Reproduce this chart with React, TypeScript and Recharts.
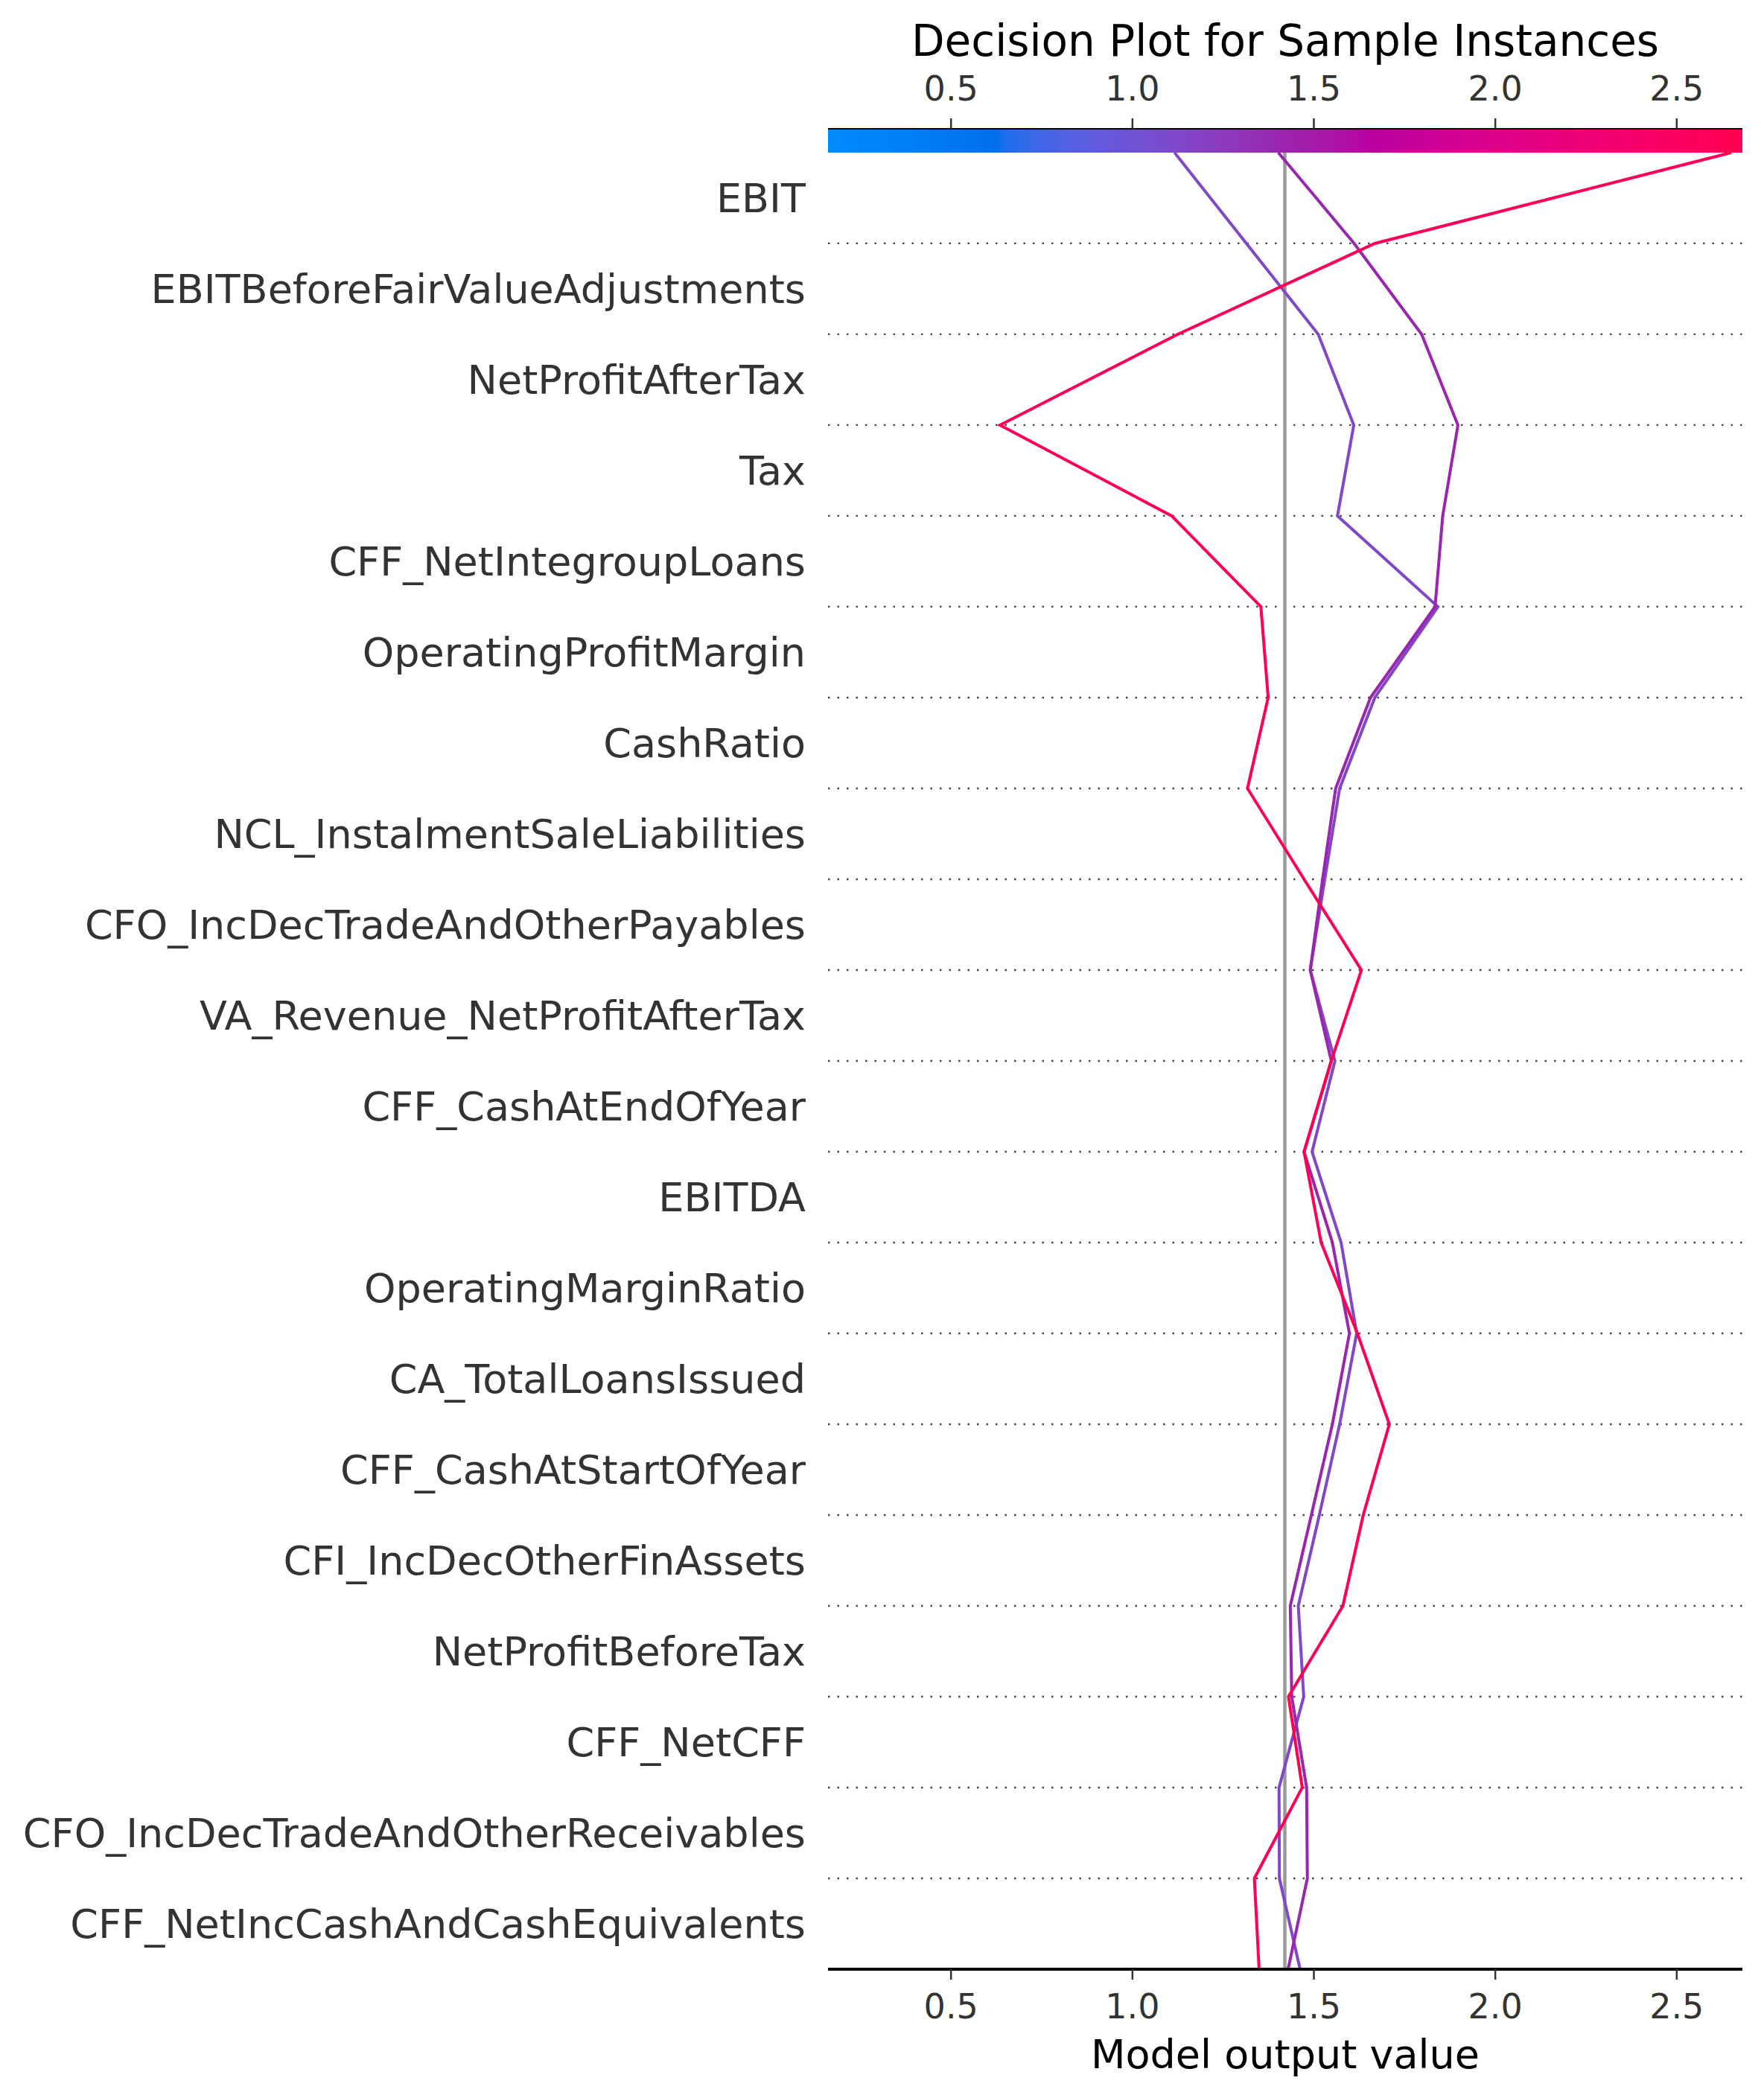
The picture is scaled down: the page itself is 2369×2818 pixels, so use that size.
import React from 'react';
import {
  ComposedChart,
  Line,
  XAxis,
  YAxis,
  ReferenceLine,
  ReferenceArea,
  Label,
} from 'recharts';

// features, top to bottom
const features = [
  'EBIT',
  'EBITBeforeFairValueAdjustments',
  'NetProfitAfterTax',
  'Tax',
  'CFF_NetIntegroupLoans',
  'OperatingProfitMargin',
  'CashRatio',
  'NCL_InstalmentSaleLiabilities',
  'CFO_IncDecTradeAndOtherPayables',
  'VA_Revenue_NetProfitAfterTax',
  'CFF_CashAtEndOfYear',
  'EBITDA',
  'OperatingMarginRatio',
  'CA_TotalLoansIssued',
  'CFF_CashAtStartOfYear',
  'CFI_IncDecOtherFinAssets',
  'NetProfitBeforeTax',
  'CFF_NetCFF',
  'CFO_IncDecTradeAndOtherReceivables',
  'CFF_NetIncCashAndCashEquivalents',
];

// cumulative model output at each row boundary, top (final prediction) to bottom
const redPath = [
  2.65, 1.668, 1.125, 0.635, 1.108, 1.354, 1.374, 1.317, 1.473, 1.631, 1.548,
  1.473, 1.52, 1.62, 1.708, 1.636, 1.58, 1.43, 1.468, 1.336, 1.349,
];
const purplePath = [
  1.402, 1.611, 1.797, 1.897, 1.855, 1.834, 1.656, 1.56, 1.524, 1.49, 1.548,
  1.473, 1.551, 1.598, 1.551, 1.493, 1.435, 1.439, 1.48, 1.482, 1.429,
];
const bluePath = [
  1.116, 1.314, 1.512, 1.61, 1.565, 1.842, 1.668, 1.571, 1.53, 1.49, 1.558,
  1.495, 1.575, 1.618, 1.571, 1.515, 1.457, 1.472, 1.404, 1.405, 1.462,
];

const baseValue = 1.42;
const xTicks = [0.5, 1.0, 1.5, 2.0, 2.5];
const xMin = 0.161;
const xMax = 2.681;

const rows = features.length;
const cbarTop = rows + 0.262;

const data = redPath.map((v, i) => ({
  pos: rows - i,
  red: v,
  purple: purplePath[i],
  blue: bluePath[i],
}));

// shap red_blue colormap (lch interpolation)
function lch2rgb(l: number, c: number, h: number) {
  const a = c * Math.cos(h);
  const b = c * Math.sin(h);
  const fy = (l + 16) / 116;
  const fx = fy + a / 500;
  const fz = fy - b / 200;
  const inv = (t: number) => (t > 0.2068966 ? t * t * t : (t - 16 / 116) / 7.787);
  const X = 0.95047 * inv(fx);
  const Y = inv(fy);
  const Z = 1.08883 * inv(fz);
  const lin = [
    3.24048134 * X - 1.53715152 * Y - 0.49853633 * Z,
    -0.96925495 * X + 1.87599 * Y + 0.04155593 * Z,
    0.05564664 * X - 0.20404134 * Y + 1.05731107 * Z,
  ];
  const out = lin.map(v => {
    const g = v > 0.0031308 ? 1.055 * Math.pow(v, 1 / 2.4) - 0.055 : 12.92 * v;
    return Math.round(Math.min(1, Math.max(0, g)) * 255);
  });
  return `rgb(${out.join(',')})`;
}

const steps = 100;
const cmap = Array.from({ length: steps }, (_, i) => {
  const l = i < 50 ? 54 + (40 - 54) * (i / 49) : 40 + (54 - 40) * ((i - 50) / 49);
  const c = 70 + (90 - 70) * (i / 99);
  const h = 4.6588 + (0.35470565 + 2 * Math.PI - 4.6588) * (i / 99);
  return lch2rgb(l, c, h);
});

const colorFor = (v: number) => {
  const t = Math.min(1, Math.max(0, (v - xMin) / (xMax - xMin)));
  return cmap[Math.round(t * (steps - 1))];
};

const tickStyle = { fontSize: 46, fill: '#333333', fontFamily: 'DejaVu Sans' };

const App: React.FC = () => {
  return (
    <div
      style={{
        position: 'absolute',
        left: 0,
        top: 0,
        width: 2369,
        height: 2818,
        background: '#ffffff',
        fontFamily: 'DejaVu Sans',
      }}
    >
      <ComposedChart
        layout="vertical"
        width={2369}
        height={2818}
        data={data}
        margin={{ top: 0, right: 29, bottom: 0, left: 32 }}
      >
        <defs>
          <linearGradient id="cbar" x1="0" y1="0" x2="1" y2="0">
            {cmap.map((col, i) => (
              <stop key={i} offset={`${(i / (steps - 1)) * 100}%`} stopColor={col} />
            ))}
          </linearGradient>
        </defs>
        <XAxis
          xAxisId="top"
          orientation="top"
          type="number"
          domain={[xMin, xMax]}
          allowDataOverflow
          ticks={xTicks}
          tickFormatter={(v: number) => v.toFixed(1)}
          height={173}
          tick={tickStyle}
          tickSize={14}
          tickMargin={24}
          tickLine={{ stroke: '#333333', strokeWidth: 2.5 }}
          axisLine={{ stroke: '#000000', strokeWidth: 2 }}
        >
          <Label
            value="Decision Plot for Sample Instances"
            position="insideTop"
            offset={34}
            style={{ fontSize: 58, fill: '#000000', fontFamily: 'DejaVu Sans' }}
          />
        </XAxis>
        <XAxis
          xAxisId="bottom"
          orientation="bottom"
          type="number"
          domain={[xMin, xMax]}
          allowDataOverflow
          ticks={xTicks}
          tickFormatter={(v: number) => v.toFixed(1)}
          height={173}
          tick={tickStyle}
          tickSize={14}
          tickMargin={19}
          tickLine={{ stroke: '#333333', strokeWidth: 2.5 }}
          axisLine={{ stroke: '#000000', strokeWidth: 4 }}
        >
          <Label
            value="Model output value"
            position="insideBottom"
            offset={40}
            style={{ fontSize: 54, fill: '#000000', fontFamily: 'DejaVu Sans' }}
          />
        </XAxis>
        <YAxis
          type="number"
          dataKey="pos"
          reversed
          domain={[0, cbarTop]}
          allowDataOverflow
          ticks={features.map((_, i) => rows - i - 0.5)}
          tickFormatter={(v: number) => features[Math.round(rows - 0.5 - v)]}
          width={1080}
          axisLine={false}
          tickLine={false}
          tickSize={0}
          tickMargin={30}
          tick={{ fontSize: 54, fill: '#333333', fontFamily: 'DejaVu Sans' }}
        />
        <ReferenceArea
          xAxisId="bottom"
          x1={xMin}
          x2={xMax}
          y1={rows}
          y2={cbarTop}
          fill="url(#cbar)"
          fillOpacity={1}
          stroke="none"
        />
        {features.slice(1).map((_, i) => (
          <ReferenceLine
            key={i}
            xAxisId="bottom"
            y={i + 1}
            stroke="#444444"
            strokeWidth={2.3}
            strokeDasharray="2.5 10"
          />
        ))}
        <ReferenceLine
          xAxisId="bottom"
          segment={[
            { x: baseValue, y: 0 },
            { x: baseValue, y: rows },
          ]}
          stroke="#999999"
          strokeWidth={4.5}
        />
        <Line
          xAxisId="bottom"
          type="linear"
          dataKey="blue"
          stroke={colorFor(bluePath[0])}
          strokeWidth={4}
          dot={false}
          isAnimationActive={false}
        />
        <Line
          xAxisId="bottom"
          type="linear"
          dataKey="purple"
          stroke={colorFor(purplePath[0])}
          strokeWidth={4}
          dot={false}
          isAnimationActive={false}
        />
        <Line
          xAxisId="bottom"
          type="linear"
          dataKey="red"
          stroke={colorFor(redPath[0])}
          strokeWidth={4}
          dot={false}
          isAnimationActive={false}
        />
      </ComposedChart>
    </div>
  );
};

export default App;
